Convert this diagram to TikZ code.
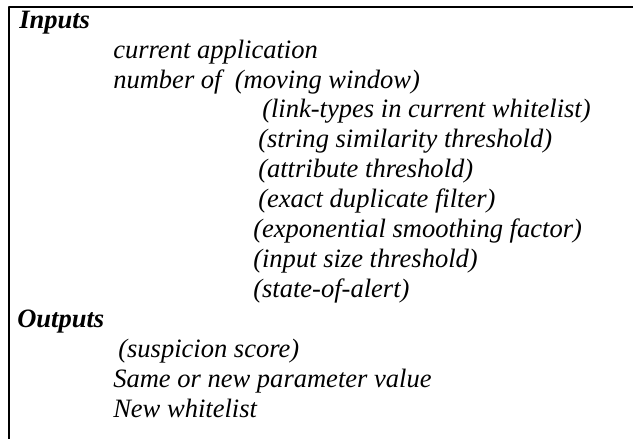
\documentclass[tikz,border=0pt]{standalone}
\usepackage{fontspec}
\setmainfont{LiberationSerif}[Extension=.ttf,UprightFont=*-Regular,ItalicFont=*-Italic,BoldFont=*-Bold,BoldItalicFont=*-BoldItalic]
\usepackage{tikz}
\usetikzlibrary{positioning}

\begin{document}
\begin{tikzpicture}[line cap=round,line join=round,x=0.75pt,y=-0.75pt,
		voce/.style={anchor=base west,inner sep=0pt,font=\fontsize{19.9}{22}\selectfont\itshape},
		titolo/.style={anchor=base west,inner sep=0pt,font=\fontsize{19.9}{22}\selectfont\bfseries\itshape}]
	\useasboundingbox (0,0) rectangle (633,439);
	\draw[line width=1.2pt] (9,439) -- (9,7) -- (633,7); %cornice
	\node[titolo] (inp) at (19,28.5) {Inputs};
	\node[voce] (curapp) at (113,58) {current application};
	\node[voce] (numof) at (113,88) {number of \ (moving window)};
	\node[voce] (linktypes) at (262,117.5) {(link-types in current whitelist)};
	\node[voce] (strsim) at (258,147) {(string similarity threshold)};
	\node[voce] (attrth) at (258,177) {(attribute threshold)};
	\node[voce] (exdup) at (258,207) {(exact duplicate filter)};
	\node[voce] (expsm) at (253,237) {(exponential smoothing factor)};
	\node[voce] (insize) at (253,267) {(input size threshold)};
	\node[voce] (alert) at (253,297) {(state-of-alert)};
	\node[titolo] (outp) at (17,327) {Outputs};
	\node[voce] (suspic) at (118,357) {(suspicion score)};
	\node[voce] (param) at (113,387) {Same or new parameter value};
	\node[voce] (newwl) at (113,417) {New whitelist};
\end{tikzpicture}
\end{document}
